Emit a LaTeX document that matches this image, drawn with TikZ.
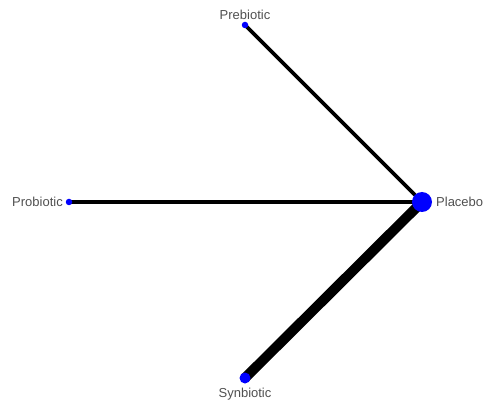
\documentclass[tikz,border=0pt]{standalone}
\usepackage{fontspec}
\setmainfont{Liberation Sans}
\definecolor{labelgray}{HTML}{505050}
\begin{document}
\begin{tikzpicture}[x=1pt,y=-1pt,
  trt/.style={circle,fill=blue,inner sep=0pt,minimum size=#1},
  lbl/.style={text=labelgray,font=\fontsize{13}{15}\selectfont,inner sep=0pt},
  edge/.style={draw=black,line width=#1}]
\useasboundingbox (0,0) rectangle (483,404);
\coordinate (pre) at (245,25);
\coordinate (pro) at (69,202);
\coordinate (pla) at (422,202);
\coordinate (syn) at (245,378);
\draw[edge=3.8pt] (pre) -- (pla);
\draw[edge=4.2pt] (pro) -- (pla);
\draw[edge=10pt] (syn) -- (pla);
\node[trt=6.5pt] (npre) at (pre) {};
\node[trt=6.5pt] (npro) at (pro) {};
\node[trt=20pt] (npla) at (pla) {};
\node[trt=11pt] (nsyn) at (syn) {};
\node[lbl,anchor=base] (tpre) at (245,19.5) {Prebiotic};
\node[lbl,anchor=base east] (tpro) at (63,206.5) {Probiotic};
\node[lbl,anchor=base west] (tpla) at (436,206.5) {Placebo};
\node[lbl,anchor=base] (tsyn) at (245,397.5) {Synbiotic};
\end{tikzpicture}
\end{document}
